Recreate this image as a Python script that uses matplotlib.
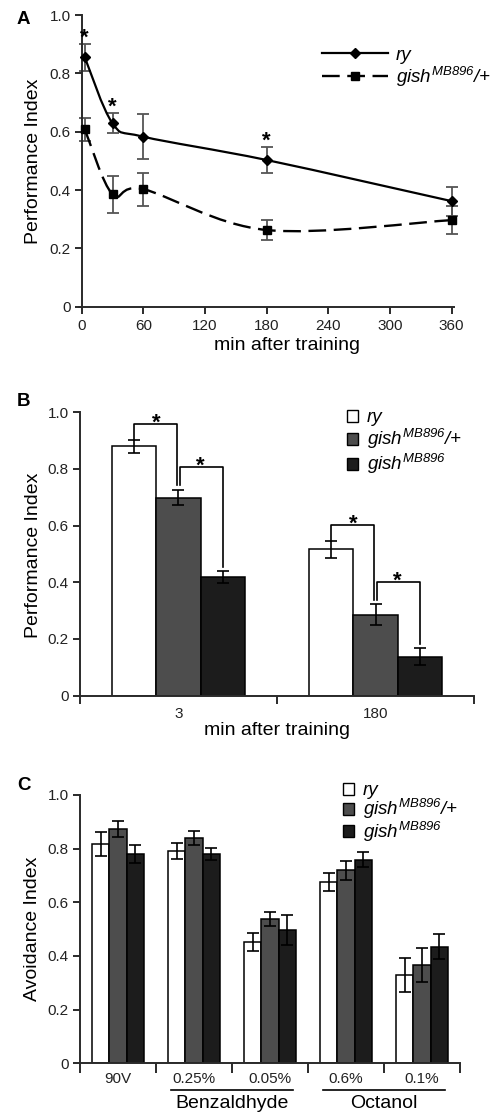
import numpy as np
import matplotlib
matplotlib.use("Agg")
import matplotlib.pyplot as plt
from matplotlib.path import Path
from matplotlib.patches import PathPatch, Patch
from matplotlib.lines import Line2D

plt.rcParams['font.family'] = ['Liberation Sans', 'DejaVu Sans']
plt.rcParams['mathtext.fontset'] = 'custom'
# only the genotype labels use mathtext, and they are all italic
plt.rcParams['mathtext.rm'] = 'Liberation Sans:italic'
plt.rcParams['mathtext.it'] = 'Liberation Sans:italic'
plt.rcParams['mathtext.bf'] = 'Liberation Sans:bold'

# --- panel A : memory decay
minutes = [3, 30, 60, 180, 360]
ry_pi = [0.855, 0.629, 0.583, 0.503, 0.362]
ry_err = [0.047, 0.035, 0.077, 0.046, 0.050]
het_pi = [0.608, 0.385, 0.403, 0.263, 0.297]
het_err = [0.040, 0.062, 0.057, 0.035, 0.048]
a_star_at = [3, 30, 180]
a_xticks = [0, 60, 120, 180, 240, 300, 360]

# --- panel B : 3 and 180 min
b_times = ['3', '180']
b_ry = [0.881, 0.516]
b_ry_err = [0.023, 0.031]
b_het = [0.699, 0.285]
b_het_err = [0.027, 0.037]
b_hom = [0.420, 0.138]
b_hom_err = [0.021, 0.031]

# --- panel C : sensory controls
c_stim = ['90V', '0.25%', '0.05%', '0.6%', '0.1%']
c_ry = [0.817, 0.791, 0.451, 0.675, 0.329]
c_ry_err = [0.046, 0.029, 0.033, 0.033, 0.065]
c_het = [0.873, 0.839, 0.538, 0.719, 0.366]
c_het_err = [0.031, 0.027, 0.025, 0.036, 0.062]
c_hom = [0.779, 0.781, 0.497, 0.758, 0.435]
c_hom_err = [0.034, 0.022, 0.056, 0.028, 0.046]
c_odors = ['Benzaldhyde', 'Octanol']
c_odor_cols = [(1, 2), (3, 4)]

lab_ry = 'ry'
lab_het = r'$gish^{MB896}$/+'
lab_hom = r'$gish^{MB896}$'

GRAY = '#4d4d4d'
DARK = '#1c1c1c'
AXC = '#2a2a2a'
TICK_FS = 11
LAB_FS = 14
LEG_FS = 13.5
leg_prop = dict(size=LEG_FS, style='italic')


def smooth_path(x, y):
    """Catmull-Rom spline through the points, as bezier segments."""
    pts = np.column_stack([x, y]).astype(float)
    ext = np.vstack([pts[0], pts, pts[-1]])
    verts = [pts[0]]
    codes = [Path.MOVETO]
    for i in range(len(pts) - 1):
        p0, p1, p2, p3 = ext[i], ext[i + 1], ext[i + 2], ext[i + 3]
        verts += [p1 + (p2 - p0) / 6, p2 - (p3 - p1) / 6, p2]
        codes += [Path.CURVE4] * 3
    return Path(verts, codes)


def style_axes(ax, ylim=(0, 1.0)):
    for s in ['top', 'right']:
        ax.spines[s].set_visible(False)
    for s in ['left', 'bottom']:
        ax.spines[s].set_linewidth(1.4)
        ax.spines[s].set_color(AXC)
    ax.set_ylim(*ylim)
    ax.set_yticks([0, 0.2, 0.4, 0.6, 0.8, 1.0])
    ax.set_yticklabels(['0', '0.2', '0.4', '0.6', '0.8', '1.0'])
    ax.tick_params(axis='both', which='major', direction='out', width=1.4,
                   color=AXC, labelsize=TICK_FS, labelcolor='#222222')
    ax.tick_params(axis='y', length=5, pad=3)


fig = plt.figure(figsize=(4.95, 11.15), dpi=100)

# ---------------- A
axA = fig.add_axes([0.1588, 0.7249, 0.7578, 0.2616])
style_axes(axA)
axA.set_xlim(-3, 362)
axA.spines['left'].set_position(('data', 0))
axA.set_xticks(a_xticks)
axA.tick_params(axis='x', length=5, pad=4)

axA.errorbar(minutes, ry_pi, yerr=ry_err, fmt='none', ecolor='#555555',
             elinewidth=1.3, capsize=4.5, capthick=1.3, zorder=2, clip_on=False)
axA.errorbar(minutes, het_pi, yerr=het_err, fmt='none', ecolor='#555555',
             elinewidth=1.3, capsize=4.5, capthick=1.3, zorder=2, clip_on=False)
axA.add_patch(PathPatch(smooth_path(minutes, ry_pi), fill=False, lw=1.6,
                        ec='black', zorder=3))
axA.add_patch(PathPatch(smooth_path(minutes, het_pi), fill=False, lw=1.7,
                        ec='black', ls=(0, (7.5, 3.2)), zorder=3))
axA.plot(minutes, ry_pi, 'D', color='black', ms=5.5, zorder=4, clip_on=False)
axA.plot(minutes, het_pi, 's', color='black', ms=5.5, zorder=4, clip_on=False)

for t in a_star_at:
    i = minutes.index(t)
    axA.text(t, ry_pi[i] + ry_err[i], '*', ha='center', va='baseline',
             fontsize=16, fontweight='bold')

axA.set_ylabel('Performance Index', fontsize=LAB_FS)
axA.yaxis.set_label_coords(-0.098, 0.5)
axA.set_xlabel('min after training', fontsize=LAB_FS)
axA.xaxis.set_label_coords(0.556, -0.104)

hA = [Line2D([], [], color='black', lw=1.6, marker='D', ms=5.5),
      Line2D([], [], color='black', lw=1.7, marker='s', ms=5.5,
             ls=(0, (7.5, 3.2)))]
axA.legend(hA, [lab_ry, lab_het], loc='upper left',
           bbox_to_anchor=(0.6505, 0.958), bbox_transform=fig.transFigure,
           frameon=False, prop=leg_prop, handlelength=3.5,
           handletextpad=0.45, labelspacing=0.05, borderpad=0, borderaxespad=0)

# ---------------- B
axB = fig.add_axes([0.1616, 0.3761, 0.796, 0.2541])
style_axes(axB)
xb = np.arange(len(b_times))
wb = 0.226
axB.set_xlim(-0.5, len(b_times) - 0.5)
axB.set_xticks(np.arange(len(b_times) + 1) - 0.5)
axB.set_xticklabels([])
axB.set_xticks(xb, minor=True)
axB.set_xticklabels(b_times, minor=True)
axB.tick_params(axis='x', which='major', length=6)
axB.tick_params(axis='x', which='minor', length=0, pad=8,
                labelsize=TICK_FS, labelcolor='#222222')

ekw = dict(ecolor='black', elinewidth=1.2, capsize=4.5, capthick=1.2, zorder=3)
b_sets = [(b_ry, b_ry_err, 'white'), (b_het, b_het_err, GRAY),
          (b_hom, b_hom_err, DARK)]
for k, (v, e, c) in enumerate(b_sets):
    axB.bar(xb + (k - 1) * wb, v, wb, yerr=e, color=c, edgecolor='black',
            linewidth=1.1, error_kw=ekw, zorder=2)

# significance brackets between neighbouring genotypes
for g in range(len(b_times)):
    tops = [b_sets[k][0][g] + b_sets[k][1][g] for k in range(3)]
    xs = [xb[g] + (k - 1) * wb for k in range(3)]
    # ry vs heterozygote
    y_top1 = tops[0] + 0.055
    y_end1 = tops[1] + 0.017
    axB.plot([xs[0], xs[0], xs[1] - 0.01, xs[1] - 0.01],
             [tops[0], y_top1, y_top1, y_end1], color='black', lw=1.2)
    axB.annotate('*', xy=((xs[0] + xs[1]) / 2, y_top1), xytext=(0, -3.5),
                 textcoords='offset points', ha='center', va='baseline',
                 fontsize=16, fontweight='bold')
    # heterozygote vs homozygote
    y_top2 = tops[1] + 0.08
    y_end2 = tops[2] + 0.012
    axB.plot([xs[1] + 0.008, xs[1] + 0.008, xs[2] - 0.002, xs[2] - 0.002],
             [y_end1, y_top2, y_top2, y_end2], color='black', lw=1.2)
    axB.annotate('*', xy=((xs[1] + xs[2]) / 2, y_top2), xytext=(0, -3.5),
                 textcoords='offset points', ha='center', va='baseline',
                 fontsize=16, fontweight='bold')

axB.set_ylabel('Performance Index', fontsize=LAB_FS)
axB.yaxis.set_label_coords(-0.0964, 0.497)
axB.set_xlabel('min after training', fontsize=LAB_FS)
axB.xaxis.set_label_coords(0.501, -0.093)

hB = [Patch(facecolor=c, edgecolor='black', lw=1.0) for _, _, c in b_sets]
axB.legend(hB, [lab_ry, lab_het, lab_hom], loc='upper left',
           bbox_to_anchor=(0.701, 0.633), bbox_transform=fig.transFigure,
           frameon=False, prop=leg_prop, handlelength=0.6, handleheight=0.6,
           handletextpad=0.45, labelspacing=0.05, borderpad=0, borderaxespad=0)

# ---------------- C
axC = fig.add_axes([0.1616, 0.0464, 0.7677, 0.2406])
style_axes(axC)
xc = np.arange(len(c_stim))
wc = 0.228
axC.set_xlim(-0.5, len(c_stim) - 0.5)
axC.set_xticks(np.arange(len(c_stim) + 1) - 0.5)
axC.set_xticklabels([])
axC.set_xticks(xc, minor=True)
axC.set_xticklabels(c_stim, minor=True)
axC.tick_params(axis='x', which='major', length=7)
axC.tick_params(axis='x', which='minor', length=0, pad=6,
                labelsize=TICK_FS, labelcolor='#222222')

c_sets = [(c_ry, c_ry_err, 'white'), (c_het, c_het_err, GRAY),
          (c_hom, c_hom_err, DARK)]
for k, (v, e, c) in enumerate(c_sets):
    axC.bar(xc + (k - 1) * wc, v, wc, yerr=e, color=c, edgecolor='black',
            linewidth=1.1, error_kw=ekw, zorder=2)

for name, (i0, i1) in zip(c_odors, c_odor_cols):
    axC.plot([i0 - 0.3, i1 + 0.3], [-0.1, -0.1], color='black', lw=1.2,
             clip_on=False)
    axC.text((i0 + i1) / 2, -0.118, name, ha='center', va='top',
             fontsize=LAB_FS)

axC.set_ylabel('Avoidance Index', fontsize=LAB_FS)
axC.yaxis.set_label_coords(-0.1026, 0.503)

axC.legend(hB, [lab_ry, lab_het, lab_hom], loc='upper left',
           bbox_to_anchor=(0.693, 0.2985), bbox_transform=fig.transFigure,
           frameon=False, prop=leg_prop, handlelength=0.6, handleheight=0.6,
           handletextpad=0.45, labelspacing=-0.1, borderpad=0, borderaxespad=0)

# panel letters
for letter, ypx in [('A', 19), ('B', 401.5), ('C', 785)]:
    fig.text(17 / 495, 1 - ypx / 1115, letter, ha='left', va='center',
             fontsize=13.5, fontweight='bold')

fig.savefig('out.png', dpi=100)
